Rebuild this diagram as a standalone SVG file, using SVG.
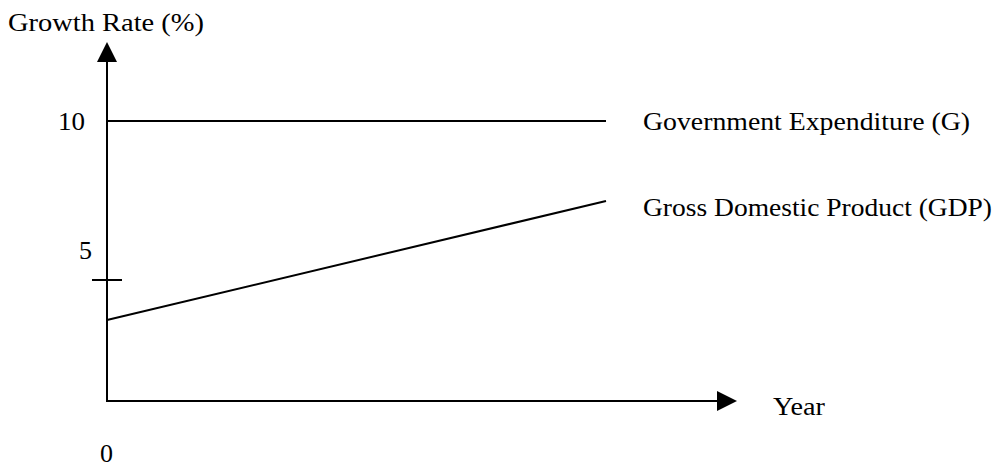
<svg xmlns="http://www.w3.org/2000/svg" width="998" height="468" viewBox="0 0 998 468">
<defs>
<style>
text{font-family:"Liberation Serif","Times New Roman",serif;font-size:26px;fill:#000}
.ln{stroke:#000;stroke-width:2;fill:none}
</style>
</defs>
<rect width="998" height="468" fill="#fff"/>
<g id="axes">
<line class="ln" x1="107" y1="401" x2="107" y2="60"/>
<polygon points="107,42 97,62 117,62" fill="#000"/>
<line class="ln" x1="106" y1="401" x2="719" y2="401"/>
<polygon points="737,401 717,391 717,411" fill="#000"/>
<line class="ln" x1="92" y1="280" x2="122" y2="280"/>
</g>
<g id="lines">
<line class="ln" x1="107" y1="121" x2="606" y2="121"/>
<line class="ln" x1="107" y1="320" x2="606" y2="201"/>
</g>
<g id="labels">
<text x="8" y="31" textLength="196" lengthAdjust="spacingAndGlyphs">Growth Rate (%)</text>
<text x="58" y="130" textLength="27" lengthAdjust="spacingAndGlyphs">10</text>
<text x="79" y="259" textLength="13" lengthAdjust="spacingAndGlyphs">5</text>
<text x="100" y="462" textLength="13" lengthAdjust="spacingAndGlyphs">0</text>
<text x="643" y="130" textLength="327" lengthAdjust="spacingAndGlyphs">Government Expenditure (G)</text>
<text x="643" y="216" textLength="349" lengthAdjust="spacingAndGlyphs">Gross Domestic Product (GDP)</text>
<text x="773" y="415" textLength="52" lengthAdjust="spacingAndGlyphs">Year</text>
</g>
</svg>
